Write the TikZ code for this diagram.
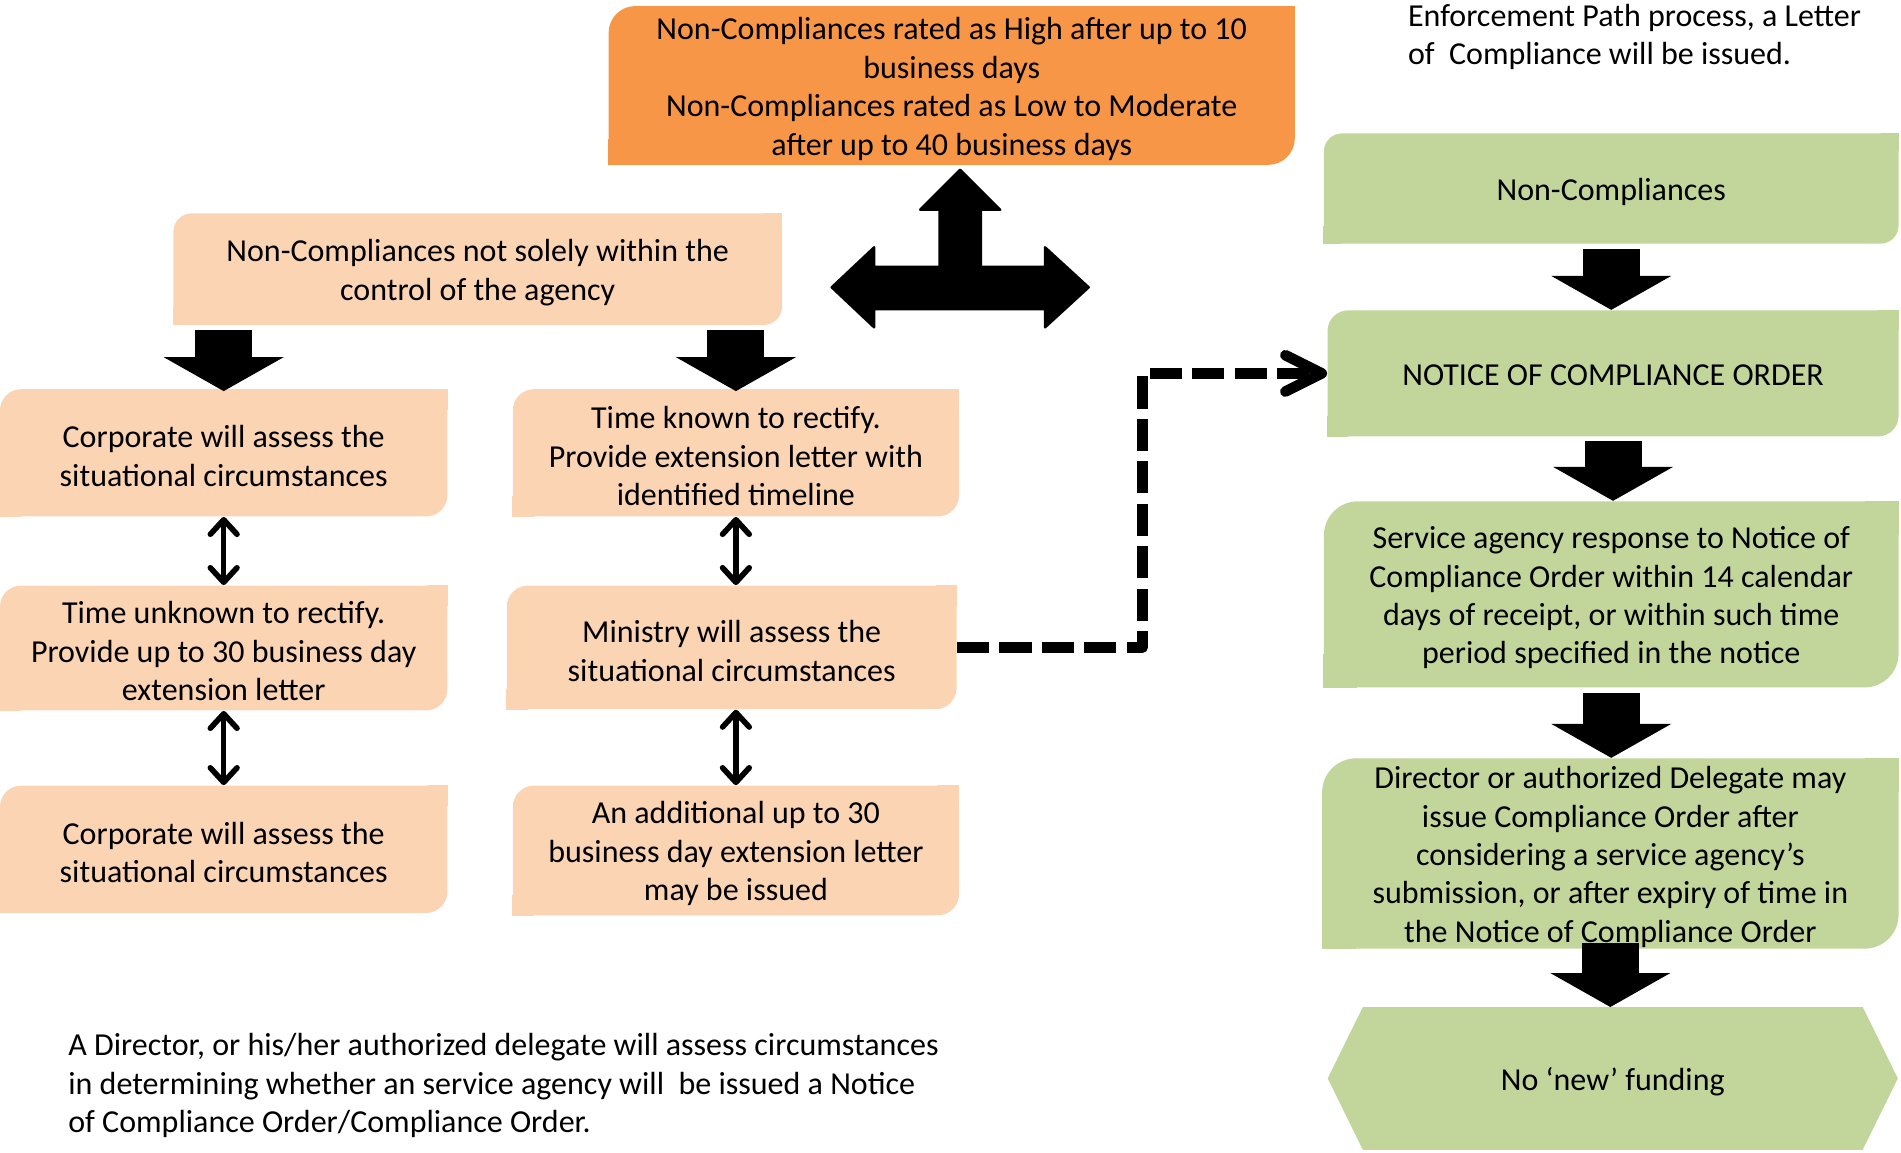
\documentclass[tikz,border=0pt]{standalone}
\usepackage{fontspec}
\setmainfont{Carlito}
\usetikzlibrary{arrows.meta,calc}
\definecolor{orangeA}{HTML}{F79646}
\definecolor{peach}{HTML}{FBD4B4}
\definecolor{olive}{HTML}{C2D69B}
\pgfdeclarelayer{bg}
\pgfsetlayers{bg,main}
\newcommand\sqcorners[3]{%
  \fill[#2] ([xshift=-#3]#1.north east) rectangle ([yshift=-#3]#1.north east);
  \fill[#2] ([yshift=#3]#1.south west) rectangle ([xshift=#3]#1.south west);}
\begin{document}
\begin{tikzpicture}[x=0.5pt,y=-0.5pt,
  txt/.style={font=\fontsize{13.2}{15.85}\selectfont, align=center, inner sep=0pt},
  bx/.style={inner sep=0pt},
  blk/.style={line width=23.5pt, -{Triangle[width=49.5pt,length=14pt,line width=0pt]}},
  dbl/.style={line width=2.3pt, {Straight Barb[length=6pt,width=11pt,round]}-{Straight Barb[length=6pt,width=11pt,round]}},
  dsh/.style={line width=4.4pt, dash pattern=on 13.25pt off 4.25pt, line join=round,
     -{Straight Barb[length=15pt,width=15pt,round]}}]
\useasboundingbox (0,0) rectangle (1568,951);

% top orange box
\node[bx, fill=orangeA, rounded corners=11pt, minimum width=283pt, minimum height=65.5pt] (top) at (785,70.5) {};
\sqcorners{top}{orangeA}{11pt}
\node[txt] (topt) at ([yshift=-1.4pt]top.center)
  {Non-Compliances rated as High after up to 10\\business days\\Non-Compliances rated as Low to Moderate\\after up to 40 business days};

% right top text
\node[txt, align=left, anchor=west] (note1) at (1161,30.5)
  {Enforcement Path process, a Letter\\of~ Compliance will be issued.};

% peach boxes
\node[bx, fill=peach, rounded corners=7.5pt, minimum width=251pt, minimum height=46pt] (nc) at (394,222) {};
\sqcorners{nc}{peach}{7.5pt}
\node[txt] (nct) at ([yshift=-1.4pt]nc.center) {Non-Compliances not solely within the\\control of the agency};

\node[bx, fill=peach, rounded corners=8.75pt, minimum width=184.5pt, minimum height=52.5pt] (corp1) at (184.5,373.5) {};
\sqcorners{corp1}{peach}{8.75pt}
\node[txt] (corp1t) at ([yshift=-1.4pt]corp1.center) {Corporate will assess the\\situational circumstances};

\node[bx, fill=peach, rounded corners=8.75pt, minimum width=184pt, minimum height=52.5pt] (tk) at (607,373.5) {};
\sqcorners{tk}{peach}{8.75pt}
\node[txt] (tkt) at ([yshift=-1.4pt]tk.center) {Time known to rectify.\\Provide extension letter with\\identified timeline};

\node[bx, fill=peach, rounded corners=8.75pt, minimum width=184.5pt, minimum height=51.5pt] (tu) at (184.5,534.5) {};
\sqcorners{tu}{peach}{8.75pt}
\node[txt] (tut) at ([yshift=-1.4pt]tu.center) {Time unknown to rectify.\\Provide up to 30 business day\\extension letter};

\node[bx, fill=peach, rounded corners=8.75pt, minimum width=185.5pt, minimum height=51pt] (min) at (603.5,534) {};
\sqcorners{min}{peach}{8.75pt}
\node[txt] (mint) at ([yshift=-1.4pt]min.center) {Ministry will assess the\\situational circumstances};

\node[bx, fill=peach, rounded corners=8.75pt, minimum width=184.5pt, minimum height=52.5pt] (corp2) at (184.5,700.5) {};
\sqcorners{corp2}{peach}{8.75pt}
\node[txt] (corp2t) at ([yshift=-1.4pt]corp2.center) {Corporate will assess the\\situational circumstances};

\node[bx, fill=peach, rounded corners=8.75pt, minimum width=184pt, minimum height=53.5pt] (add) at (607,701.5) {};
\sqcorners{add}{peach}{8.75pt}
\node[txt] (addt) at ([yshift=-1.4pt]add.center) {An additional up to 30\\business day extension letter\\may be issued};

% green boxes
\node[bx, fill=olive, rounded corners=7.5pt, minimum width=237pt, minimum height=45.5pt] (g1) at (1329,155.5) {};
\sqcorners{g1}{olive}{7.5pt}
\node[txt] (g1t) at ([yshift=-1.4pt]g1.center) {Non-Compliances};

\node[bx, fill=olive, rounded corners=8.5pt, minimum width=235.5pt, minimum height=52pt] (g2) at (1330.5,308) {};
\sqcorners{g2}{olive}{8.5pt}
\node[txt] (g2t) at ([yshift=-0.7pt]g2.center) {NOTICE OF COMPLIANCE ORDER};

\node[bx, fill=olive, rounded corners=14pt, minimum width=237pt, minimum height=76.75pt] (g3) at (1329,490.25) {};
\sqcorners{g3}{olive}{14pt}
\node[txt] (g3t) at ([yshift=-1.4pt]g3.center)
  {Service agency response to Notice of\\Compliance Order within 14 calendar\\days of receipt, or within such time\\period specified in the notice};

\node[bx, fill=olive, rounded corners=14pt, minimum width=237.75pt, minimum height=78.5pt] (g4) at (1328.25,704) {};
\sqcorners{g4}{olive}{14pt}
\node[txt] (g4t) at ([yshift=-1.4pt]g4.center)
  {Director or authorized Delegate may\\issue Compliance Order after\\considering a service agency’s\\submission, or after expiry of time in\\the Notice of Compliance Order};

\node[bx, minimum width=234.75pt, minimum height=58.5pt] (g5) at (1330.25,889.5) {};
\node[txt] (g5t) at ([yshift=-1.4pt]g5.center) {No ‘new’ funding};
\begin{pgfonlayer}{bg}
\fill[olive] (g5.west) -- ([xshift=14.5pt]g5.north west) -- ([xshift=-14.5pt]g5.north east)
  -- (g5.east) -- ([xshift=-14.5pt]g5.south east) -- ([xshift=14.5pt]g5.south west) -- cycle;
\end{pgfonlayer}

% bottom note
\node[txt, align=left, anchor=west] (note2) at (56,895.5)
  {A Director, or his/her authorized delegate will assess circumstances\\in determining whether an service agency will~ be issued a Notice\\of Compliance Order/Compliance Order.};

% three-way arrow
\filldraw[black, line width=1pt, line join=round] (792,140) -- (825,173) -- (809,173) -- (809,220)
  -- (862,220) -- (862,204) -- (898,237) -- (862,270) -- (862,255) -- (721,255) -- (721,270)
  -- (686,237) -- (721,204) -- (721,220) -- (775,220) -- (775,173) -- (759,173) -- cycle;

% block arrows
\draw[blk] ([yshift=-2pt]nc.south -| corp1.north) -- ([yshift=-1pt]corp1.north);
\draw[blk] ([yshift=-2pt]nc.south -| tk.north) -- ([yshift=-1pt]tk.north);
\draw[blk] ([yshift=-2pt]g1.south) -- (g1.south |- g2.north);
\draw[blk] ([yshift=-1.5pt]g2.south) -- (g2.south |- g3.north);
\draw[blk] ([yshift=-2pt]g3.south) -- (g3.south |- g4.north);
\draw[blk] ([yshift=2.75pt]g4.south) -- (g4.south |- g5.north);

% double arrows
\draw[dbl] (corp1.south) -- (tu.north);
\draw[dbl] (tu.south) -- (corp2.north);
\draw[dbl] (tk.south) -- (tk.south |- min.north);
\draw[dbl] (add.north |- min.south) -- (add.north);

% dashed connector
\draw[dsh] (min.east) -- ++(153,0) |- (g2.west);
\end{tikzpicture}
\end{document}
